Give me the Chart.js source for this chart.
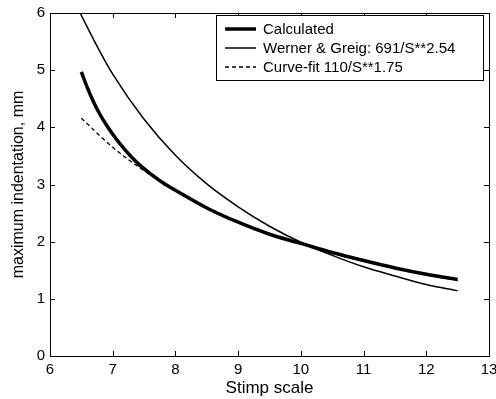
<!DOCTYPE html>
<html lang="en">
  <head>
    <meta charset="UTF-8" />
    <title>Maximum indentation vs Stimp</title>
    <script src="https://cdn.jsdelivr.net/npm/chart.js"></script>
    <style>
      html, body { margin: 0; padding: 0; background: #fff; }
      #wrap { width: 496px; height: 399px; }
    </style>
  </head>
  <body>
    <div id="wrap"><canvas id="chart" width="496" height="399"></canvas></div>
    <script>
      // values
      const calcX = [6.5, 6.6, 6.7, 6.8, 6.9, 7.0, 7.2, 7.4, 7.6, 7.8, 8.0, 8.5, 9.0, 9.5, 10.0, 10.5, 11.0, 11.5, 12.0, 12.5];
      const calcY = [4.97, 4.68, 4.43, 4.22, 4.04, 3.88, 3.60, 3.37, 3.19, 3.03, 2.90, 2.59, 2.34, 2.13, 1.97, 1.81, 1.67, 1.54, 1.43, 1.34];

      const wernerX = [6.48, 6.75, 7.0, 7.5, 8.0, 8.5, 9.0, 9.5, 10.0, 10.5, 11.0, 11.5, 12.0, 12.5];
      const wernerY = [6.0, 5.42, 4.93, 4.14, 3.51, 3.01, 2.61, 2.27, 1.99, 1.76, 1.56, 1.40, 1.25, 1.14];

      const fitX = [6.5, 7.0, 7.5, 8.0, 8.5, 9.0, 9.5, 10.0, 10.5, 11.0, 11.5, 12.0, 12.5];
      const fitY = [4.16, 3.65, 3.24, 2.89, 2.60, 2.35, 2.14, 1.96, 1.80, 1.66, 1.53, 1.42, 1.32];

      const xTicks = [6, 7, 8, 9, 10, 11, 12, 13];
      const yTicks = [0, 1, 2, 3, 4, 5, 6];

      const seriesNames = ["Calculated", "Werner & Greig: 691/S**2.54", "Curve-fit 110/S**1.75"];

      function pts(xs, ys) {
        return xs.map((x, i) => ({ x: x, y: ys[i] }));
      }

      const FONT = "'Liberation Sans', Arial, sans-serif";

      // matlab style frame with inward ticks + legend box
      const framePlugin = {
        id: "frame",
        afterDraw(chart) {
          const ctx = chart.ctx;
          const a = chart.chartArea;
          const xs = chart.scales.x, ys = chart.scales.y;
          ctx.save();
          ctx.strokeStyle = "#000";
          ctx.lineWidth = 1;
          ctx.strokeRect(a.left + 0.5, a.top + 0.5, a.right - a.left, a.bottom - a.top);
          ctx.beginPath();
          xTicks.forEach(v => {
            const px = Math.round(xs.getPixelForValue(v)) + 0.5;
            ctx.moveTo(px, a.bottom); ctx.lineTo(px, a.bottom - 5);
            ctx.moveTo(px, a.top); ctx.lineTo(px, a.top + 5);
          });
          yTicks.forEach(v => {
            const py = Math.round(ys.getPixelForValue(v)) + 0.5;
            ctx.moveTo(a.left, py); ctx.lineTo(a.left + 5, py);
            ctx.moveTo(a.right, py); ctx.lineTo(a.right - 5, py);
          });
          ctx.stroke();

          // legend
          const bx = 216, by = 15, bw = 267, bh = 65;
          ctx.fillStyle = "#fff";
          ctx.fillRect(bx, by, bw, bh);
          ctx.strokeRect(bx + 0.5, by + 0.5, bw, bh);
          ctx.font = "15px " + FONT;
          ctx.textBaseline = "middle";
          chart.data.datasets.forEach((ds, i) => {
            const y = by + 14 + i * 19;
            ctx.beginPath();
            ctx.lineWidth = ds.borderWidth;
            ctx.setLineDash(ds.borderDash || []);
            ctx.moveTo(bx + 9, y);
            ctx.lineTo(bx + 40, y);
            ctx.stroke();
            ctx.setLineDash([]);
            ctx.fillStyle = "#000";
            ctx.fillText(ds.label, bx + 47, y + 1);
          });
          ctx.restore();
        }
      };

      new Chart(document.getElementById("chart"), {
        type: "line",
        data: {
          datasets: [
            {
              label: seriesNames[0],
              data: pts(calcX, calcY),
              borderColor: "#000",
              borderWidth: 3.5,
              pointRadius: 0,
              cubicInterpolationMode: "monotone",
              fill: false
            },
            {
              label: seriesNames[1],
              data: pts(wernerX, wernerY),
              borderColor: "#000",
              borderWidth: 1.5,
              pointRadius: 0,
              cubicInterpolationMode: "monotone",
              fill: false
            },
            {
              label: seriesNames[2],
              data: pts(fitX, fitY),
              borderColor: "#000",
              borderWidth: 1.3,
              borderDash: [4, 3],
              pointRadius: 0,
              cubicInterpolationMode: "monotone",
              fill: false
            }
          ]
        },
        options: {
          responsive: false,
          animation: false,
          clip: true,
          layout: { padding: { left: 0, right: 7, top: 13, bottom: 0 } },
          plugins: { legend: { display: false }, tooltip: { enabled: false } },
          scales: {
            x: {
              type: "linear",
              min: 6,
              max: 13,
              afterBuildTicks: s => { s.ticks = xTicks.map(v => ({ value: v })); },
              ticks: { color: "#000", font: { family: FONT, size: 15 }, padding: 5, maxRotation: 0 },
              grid: { display: false, drawTicks: false },
              border: { display: false },
              title: { display: true, text: "Stimp scale", color: "#000", font: { family: FONT, size: 17 }, padding: { top: 0, bottom: 0 } },
              afterFit: s => { s.height = 43; s.paddingLeft = 0; s.paddingRight = 0; }
            },
            y: {
              min: 0,
              max: 6,
              afterBuildTicks: s => { s.ticks = yTicks.map(v => ({ value: v })); },
              ticks: { color: "#000", font: { family: FONT, size: 15 }, padding: 5 },
              grid: { display: false, drawTicks: false },
              border: { display: false },
              title: { display: true, text: "maximum indentation, mm", color: "#000", font: { family: FONT, size: 16 }, padding: { top: 9, bottom: 0 } },
              afterFit: s => { s.width = 50; s.paddingTop = 0; s.paddingBottom = 0; }
            }
          }
        },
        plugins: [framePlugin]
      });
    </script>
  </body>
</html>
